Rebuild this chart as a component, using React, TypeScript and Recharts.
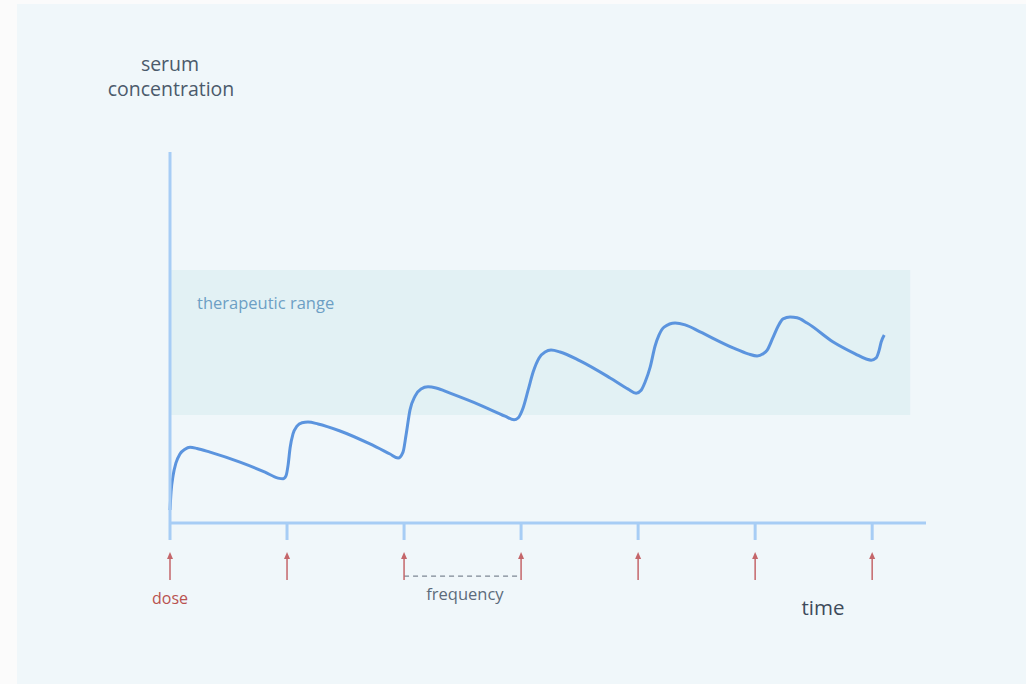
import React from 'react';
import {
  LineChart,
  Line,
  XAxis,
  YAxis,
  ReferenceArea,
  ReferenceLine,
  ReferenceDot,
} from 'recharts';

// time in dosing intervals, concentration in % of the axis height
const timePoints = [
  0.0, 0.009, 0.026, 0.051, 0.085, 0.128, 0.171, 0.231, 0.342, 0.598, 0.812, 0.923, 0.966,
  0.991, 1.009, 1.026, 1.051, 1.085, 1.128, 1.179, 1.265, 1.453, 1.709, 1.88, 1.949,
  1.991, 2.017, 2.051, 2.094, 2.145, 2.205, 2.274, 2.393, 2.65, 2.863, 2.94,
  2.974, 3.017, 3.06, 3.103, 3.154, 3.205, 3.256, 3.333, 3.504, 3.761, 3.915, 3.983,
  4.026, 4.06, 4.103, 4.145, 4.179, 4.222, 4.316, 4.402, 4.53, 4.812, 4.94, 5.017,
  5.068, 5.103, 5.154, 5.197, 5.239, 5.299, 5.359, 5.444, 5.667, 5.855, 5.949, 5.991,
  6.034, 6.06, 6.077, 6.103,
];
const concentration = [
  3.5, 8.4, 12.7, 16.2, 18.6, 19.9, 20.4, 20.1, 19.1, 16.4, 13.7, 12.1, 11.9,
  12.7, 15.6, 20.2, 24.0, 26.1, 27.0, 27.2, 26.7, 24.8, 21.3, 18.6, 17.5,
  19.1, 23.7, 30.5, 34.2, 36.1, 36.7, 36.4, 35.0, 31.8, 28.8, 27.8,
  28.3, 31.0, 35.8, 40.7, 44.5, 46.1, 46.6, 46.1, 43.7, 39.1, 36.1, 35.0,
  35.8, 38.0, 42.0, 47.7, 50.7, 52.8, 53.9, 53.4, 51.5, 47.2, 45.6, 45.0,
  45.6, 46.6, 50.1, 53.1, 55.0, 55.5, 55.3, 53.9, 48.8, 45.6, 44.2, 43.9,
  44.5, 46.6, 48.8, 50.7,
];
const doseTimes = [0, 1, 2, 3, 4, 5, 6];
const yTitleLines = ['serum', 'concentration'];
const therapeuticLow = 29.1;
const therapeuticHigh = 68.2;
const therapeuticEnd = 6.325;

const data = timePoints.map((t, i) => ({ t, c: concentration[i] }));

const FONT = '"Open Sans", "DejaVu Sans", sans-serif';
const AXIS = '#a7cdf5';
const RED = '#c4666a';

const DoseTick = (props: any) => {
  const { x, y } = props;
  return (
    <g>
      <line x1={x} y1={y + 5} x2={x} y2={y + 28} stroke={RED} strokeWidth={1.5} />
      <path d={`M${x - 3},${y + 7} L${x},${y} L${x + 3},${y + 7} Z`} fill={RED} />
    </g>
  );
};

// two-line title above the y axis, drawn as one text element
const YTitle = (props: any) => {
  const { viewBox } = props;
  const cx = viewBox.x + viewBox.width / 2;
  const cy = viewBox.y + viewBox.height / 2;
  return (
    <text x={cx} y={cy} textAnchor="middle" fill="#4b5a6b" fontSize={19.5} fontFamily={FONT}>
      <tspan x={cx} y={cy - 6}>{yTitleLines[0]}</tspan>
      <tspan x={cx + 1} y={cy + 19}>{yTitleLines[1]}</tspan>
    </text>
  );
};

const textLabel = (value: string, fill: string, fontSize: number) => ({
  value,
  position: 'center' as const,
  fill,
  fontSize,
  fontFamily: FONT,
});

export default function App() {
  return (
    <div style={{ position: 'absolute', left: 0, top: 0, width: 1026, height: 684, background: '#fbfbfb' }}>
      <div style={{ position: 'absolute', left: 17, top: 4, right: 0, bottom: 0, background: '#f0f7fa' }} />
      <div style={{ position: 'absolute', left: 0, top: 0 }}>
        <LineChart
          width={1026}
          height={684}
          data={data}
          margin={{ top: 152, right: 100, left: 120, bottom: 101 }}
        >
          <ReferenceArea
            x1={0}
            x2={therapeuticEnd}
            y1={therapeuticLow}
            y2={therapeuticHigh}
            fill="#e2f1f4"
            fillOpacity={1}
            stroke="none"
            label={{
              value: 'therapeutic range',
              position: 'insideTopLeft',
              offset: 27,
              fill: '#6d9fc4',
              fontSize: 16.5,
              fontFamily: FONT,
            }}
          />
          <XAxis
            type="number"
            dataKey="t"
            domain={[0, 6.46]}
            ticks={doseTimes}
            height={60}
            axisLine={{ stroke: AXIS, strokeWidth: 3 }}
            tickLine={{ stroke: AXIS, strokeWidth: 3 }}
            tickSize={17}
            tickMargin={12}
            tick={(p: any) => <DoseTick {...p} />}
            interval={0}
          />
          <YAxis
            type="number"
            domain={[0, 100]}
            width={50}
            axisLine={{ stroke: AXIS, strokeWidth: 3 }}
            tick={false}
            tickLine={false}
          />
          <ReferenceLine
            segment={[
              { x: 2, y: -14.3 },
              { x: 3, y: -14.3 },
            ]}
            stroke="#7d8894"
            strokeDasharray="5 4"
            strokeWidth={1.3}
            ifOverflow="visible"
          />
          <ReferenceDot x={0} y={120.1} r={0} stroke="none" fill="none" ifOverflow="visible"
            label={{ content: (p: any) => <YTitle {...p} /> }} />
          <ReferenceDot x={0} y={-20.2} r={0} stroke="none" fill="none" ifOverflow="visible"
            label={textLabel('dose', '#b9524f', 16)} />
          <ReferenceDot x={2.52} y={-19.1} r={0} stroke="none" fill="none" ifOverflow="visible"
            label={textLabel('frequency', '#5c6b7b', 16.5)} />
          <ReferenceDot x={5.58} y={-22.9} r={0} stroke="none" fill="none" ifOverflow="visible"
            label={textLabel('time', '#3e4b5b', 20.5)} />
          <Line
            type="monotone"
            dataKey="c"
            stroke="#5b94de"
            strokeWidth={3}
            dot={false}
            activeDot={false}
            isAnimationActive={false}
          />
        </LineChart>
      </div>
    </div>
  );
}
